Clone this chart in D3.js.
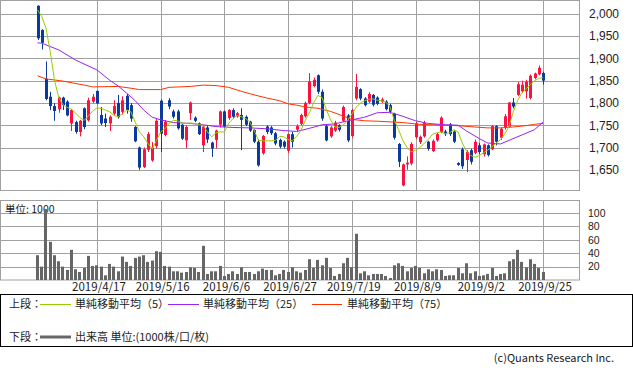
<!DOCTYPE html>
<html><head><meta charset="utf-8">
<script src="https://cdn.jsdelivr.net/npm/d3@7"></script>
<style>
body{margin:0;background:#fff}
svg{display:block}
text{font-family:"Noto Sans CJK JP","Noto Sans",sans-serif;fill:#222}
text.num{font-family:"Liberation Sans","Noto Sans",sans-serif}
</style>
</head><body>
<svg id="c" width="633" height="372"></svg>
<script>
// ---- data ----
const openP  = [2018,1964,1854,1814,1793,1786,1812,1803,1754,1757,1735,1788,1761,1803,1827,1773,1765,1754,1776,1800,
                1780,1816,1795,1746,1700,1656,1695,1671,1703,1805,1728,1806,1781,1781,1751,1716,1777,1767,1754,1705,
                1745,1711,1717,1751,1781,1766,1784,1770,1773,1769,1758,1739,1713,1687,1747,1745,1732,1717,1713,1693,
                1730,1740,1753,1770,1800,1838,1862,1825,1748,1725,1738,1750,1760,1772,1726,1810,1831,1810,1803,1818,
                1812,1803,1803,1795,1776,1708,1615,1662,1664,1723,1712,1725,1713,1692,1716,1735,1736,1752,1736,1665,
                1696,1672,1694,1688,1705,1685,1705,1696,1748,1722,1745,1747,1801,1818,1826,1826,1811,1856,1864,1867];
const highP  = [2019,1965,1893,1825,1800,1814,1814,1806,1786,1760,1762,1790,1812,1820,1828,1791,1776,1772,1806,1818,
                1815,1820,1800,1748,1702,1700,1735,1712,1765,1808,1762,1811,1785,1785,1753,1750,1803,1770,1756,1750,
                1750,1713,1740,1783,1783,1786,1788,1780,1788,1772,1760,1741,1718,1728,1750,1748,1735,1720,1716,1732,
                1735,1752,1776,1803,1867,1857,1864,1830,1752,1748,1760,1752,1794,1775,1787,1865,1833,1813,1824,1820,
                1815,1812,1806,1798,1778,1710,1664,1680,1712,1757,1727,1760,1715,1718,1733,1770,1740,1755,1738,1667,
                1700,1694,1697,1718,1710,1709,1707,1750,1750,1745,1775,1802,1811,1847,1850,1852,1864,1868,1884,1870];
const lowP   = [1941,1920,1806,1784,1760,1778,1784,1770,1737,1731,1725,1741,1758,1800,1797,1750,1746,1737,1773,1765,
                1774,1776,1758,1712,1650,1654,1690,1668,1698,1690,1725,1786,1765,1740,1717,1699,1762,1757,1728,1690,
                1710,1679,1698,1745,1745,1762,1765,1767,1694,1748,1735,1710,1657,1684,1730,1728,1705,1698,1698,1688,
                1700,1735,1750,1767,1797,1835,1820,1760,1714,1722,1735,1736,1757,1712,1722,1806,1806,1792,1800,1792,
                1795,1800,1783,1776,1718,1656,1613,1650,1660,1720,1708,1722,1693,1690,1713,1732,1726,1726,1710,1659,
                1652,1645,1662,1685,1685,1680,1680,1694,1705,1717,1740,1745,1788,1815,1822,1810,1808,1853,1862,1841];
const closeP = [1945,1935,1809,1793,1782,1812,1795,1772,1784,1735,1760,1746,1806,1814,1799,1754,1755,1769,1793,1768,
                1806,1784,1765,1714,1655,1696,1730,1700,1760,1731,1758,1792,1769,1743,1720,1746,1801,1760,1730,1747,
                1718,1698,1738,1781,1747,1784,1769,1777,1762,1751,1738,1713,1660,1726,1735,1732,1709,1702,1702,1730,
                1713,1748,1773,1800,1848,1852,1825,1765,1716,1745,1756,1740,1791,1716,1784,1836,1810,1795,1820,1796,
                1798,1808,1786,1780,1722,1668,1662,1666,1708,1754,1724,1755,1697,1715,1730,1767,1730,1730,1713,1661,
                1658,1690,1668,1713,1690,1707,1683,1748,1713,1742,1770,1801,1792,1842,1841,1848,1861,1866,1879,1850];
const volume = [37,20,106,57,37,28,20,15,45,16,12,18,36,21,22,20,7,24,20,13,
                35,27,21,33,35,37,27,29,43,42,21,20,13,13,11,12,19,18,12,51,
                9,13,13,21,6,9,13,9,19,12,12,9,13,17,15,15,7,9,15,12,
                19,13,11,15,31,18,30,22,33,18,6,9,25,33,19,69,10,13,7,9,
                9,9,6,3,22,25,21,13,18,21,18,10,16,13,16,15,6,7,7,18,
                10,25,10,13,6,7,9,18,6,9,10,28,31,45,27,19,31,24,18,12];
const ma5 = [2009,1994,1968,1915,1851,1812,1796,1790,1786,1777,1767,1761,1771,1782,1789,1788,1784,1780,1772,1769,
             1776,1784,1780,1757,1735,1724,1709,1697,1716,1735,1742,1754,1761,1760,1755,1754,1755,1754,1751,1750,
             1735,1724,1733,1735,1735,1754,1765,1772,1769,1765,1757,1739,1716,1715,1715,1715,1716,1725,1724,1718,
             1715,1725,1738,1760,1778,1800,1817,1812,1785,1762,1746,1745,1751,1760,1775,1790,1800,1805,1808,1809,
             1806,1805,1802,1791,1761,1740,1716,1700,1690,1694,1700,1709,1718,1730,1733,1735,1731,1733,1740,1735,
             1710,1692,1682,1678,1682,1688,1694,1702,1710,1718,1730,1748,1780,1805,1822,1832,1840,1850,1855,1857];
const ma25Idx = [0,1,5,9,14,17,19,21,23,25,27,29,32,36,39,42,46,50,54,58,61,64,67,70,74,77,80,83,86,89,92,96,99,101,104,106,109,111,114,117,119];
const ma25Val = [1935,1934,1919,1896,1874,1851,1838,1822,1805,1784,1768,1762,1756,1754,1751,1747,1745,1744,1742,1738,1736,1743,1751,1753,1762,1768,1778,1779,1770,1760,1754,1751,1750,1737,1720,1710,1708,1716,1728,1740,1757];
const ma75Idx = [0,2,6,11,13,19,22,24,29,31,36,39,42,45,48,51,54,57,59,61,63,66,69,71,74,77,80,86,90,99,103,106,109,112,115,117,119];
const ma75Val = [1861,1854,1849,1840,1836,1837,1833,1830,1830,1835,1837,1840,1839,1835,1826,1818,1811,1805,1798,1795,1791,1788,1781,1774,1763,1760,1759,1756,1752,1749,1746,1744,1744,1746,1749,1752,1754];
const tickIdx = [14,29,44,59,74,89,104,119];
const tickLabels = ["2019/4/17","2019/5/16","2019/6/6","2019/6/27","2019/7/19","2019/8/9","2019/9/2","2019/9/25"];
const priceTicks = [1650,1700,1750,1800,1850,1900,1950,2000];
const volTicks = [20,40,60,80,100];

// ---- layout ----
const svg = d3.select("#c");
const L = 0.5, R = 579.5;
const pTop = 0.5, pBot = 190.5, vTop = 200.5, vBot = 280;
const GRID = "#a0a0a0", UP = "#ff1040", DOWN = "#0a3a9e";

const x = d3.scaleLinear().domain([0,119]).range([37.5,543]);
const yP = d3.scaleLinear().domain([1650,2000]).range([169.8,13.8]);
const yV = d3.scaleLinear().domain([0,100]).range([280,213]);

function panel(top,bot,yTicks,ys){
  const g = svg.append("g");
  g.append("rect").attr("x",L).attr("y",top).attr("width",R-L).attr("height",bot-top)
    .attr("fill","#fff").attr("stroke",GRID).attr("stroke-width",1);
  g.selectAll("line.h").data(yTicks).join("line")
    .attr("x1",L).attr("x2",R).attr("y1",d=>Math.round(ys(d))+0.5).attr("y2",d=>Math.round(ys(d))+0.5)
    .attr("stroke",GRID).attr("stroke-width",1);
  g.selectAll("line.v").data(tickIdx).join("line")
    .attr("x1",d=>Math.round(x(d))+0.5).attr("x2",d=>Math.round(x(d))+0.5).attr("y1",top).attr("y2",bot)
    .attr("stroke",GRID).attr("stroke-width",1);
  return g;
}
panel(pTop,pBot,priceTicks,yP);
panel(vTop,vBot,volTicks,yV);

// price labels
svg.append("g").selectAll("text").data(priceTicks).join("text").attr("class","num")
  .attr("x",589).attr("y",d=>yP(d)).attr("dy","0.36em")
  .attr("font-size",12).text(d=>d3.format(",")(d));
// volume labels
svg.append("g").selectAll("text").data(volTicks).join("text").attr("class","num")
  .attr("x",588).attr("y",d=>yV(d)).attr("dy","0.36em")
  .attr("font-size",10.5).text(d=>d);
svg.append("text").attr("x",5).attr("y",209).attr("dy","0.36em").attr("font-size",10.5).text("単位: 1000");

// date labels
svg.append("g").selectAll("text").data(tickIdx).join("text")
  .attr("x",d=>x(d)+2).attr("y",287).attr("dy","0.36em").attr("text-anchor","middle")
  .attr("font-size",11.5).text((d,i)=>tickLabels[i]);

// volume bars
svg.append("g").selectAll("rect").data(volume).join("rect")
  .attr("x",(d,i)=>Math.round(x(i)-1.5)).attr("width",3)
  .attr("y",d=>yV(d)).attr("height",d=>vBot-yV(d)).attr("fill","#666");

// candles
const idx = d3.range(openP.length);
const cg = svg.append("g");
cg.selectAll("line").data(idx).join("line")
  .attr("x1",i=>Math.round(x(i))+0.5).attr("x2",i=>Math.round(x(i))+0.5)
  .attr("y1",i=>yP(highP[i])).attr("y2",i=>yP(lowP[i]))
  .attr("stroke",i=>closeP[i]>=openP[i]?UP:DOWN).attr("stroke-width",1);
cg.selectAll("rect").data(idx).join("rect")
  .attr("x",i=>Math.round(x(i))-1).attr("width",3)
  .attr("y",i=>yP(Math.max(openP[i],closeP[i])))
  .attr("height",i=>Math.max(1,Math.abs(yP(openP[i])-yP(closeP[i]))))
  .attr("fill",i=>closeP[i]>=openP[i]?UP:DOWN);

// moving averages
const line = d3.line().x(d=>x(d[0])).y(d=>yP(d[1]));
svg.append("path").datum(ma75Idx.map((d,i)=>[d,ma75Val[i]])).attr("d",line)
  .attr("fill","none").attr("stroke","#ff3300").attr("stroke-width",1);
svg.append("path").datum(ma25Idx.map((d,i)=>[d,ma25Val[i]])).attr("d",line)
  .attr("fill","none").attr("stroke","#9922ee").attr("stroke-width",1);
svg.append("path").datum(ma5.map((v,i)=>[i,v])).attr("d",line)
  .attr("fill","none").attr("stroke","#99cc00").attr("stroke-width",1);

// legend box
svg.append("rect").attr("x",0.5).attr("y",294.5).attr("width",632).attr("height",52)
  .attr("fill","none").attr("stroke","#000").attr("stroke-width",1);
const lg = svg.append("g").attr("font-size",11);
lg.append("text").attr("x",9).attr("y",304).attr("dy","0.36em").text("上段：");
lg.append("text").attr("x",9).attr("y",337).attr("dy","0.36em").text("下段：");
const legItems = [
  {x1:40,x2:71,tx:75,c:"#99cc00",t:"単純移動平均（5）"},
  {x1:168,x2:199,tx:203,c:"#9922ee",t:"単純移動平均（25）"},
  {x1:312,x2:342,tx:347,c:"#ff3300",t:"単純移動平均（75）"}
];
legItems.forEach(d=>{
  lg.append("line").attr("x1",d.x1).attr("x2",d.x2).attr("y1",304.5).attr("y2",304.5).attr("stroke",d.c).attr("stroke-width",1);
  lg.append("text").attr("x",d.tx).attr("y",304).attr("dy","0.36em").text(d.t);
});
lg.append("line").attr("x1",40).attr("x2",71).attr("y1",337).attr("y2",337).attr("stroke","#666").attr("stroke-width",3);
lg.append("text").attr("x",75).attr("y",337).attr("dy","0.36em").text("出来高 単位:(1000株/口/枚)");

svg.append("text").attr("x",614).attr("y",358).attr("dy","0.36em").attr("text-anchor","end")
  .attr("font-size",11).attr("fill","#444").text("(c)Quants Research Inc.");
</script>
</body></html>
